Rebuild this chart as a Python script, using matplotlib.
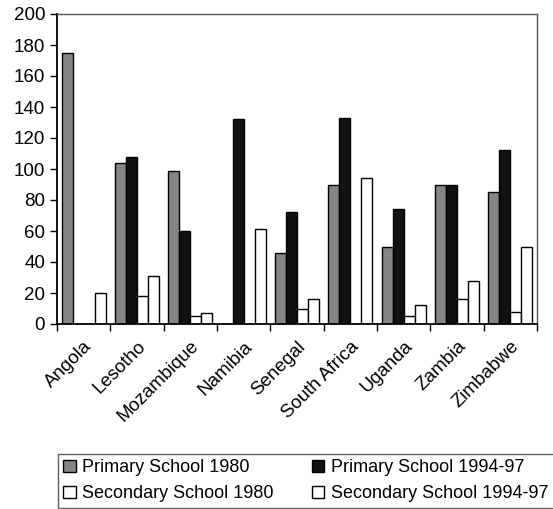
import numpy as np
import matplotlib.pyplot as plt

plt.rcParams['font.family'] = ['Liberation Sans', 'DejaVu Sans']

countries = ['Angola', 'Lesotho', 'Mozambique', 'Namibia', 'Senegal',
             'South Africa', 'Uganda', 'Zambia', 'Zimbabwe']
primary_1980 = [175, 104, 99, 0, 46, 90, 50, 90, 85]
primary_1994 = [0, 108, 60, 132, 72, 133, 74, 90, 112]
secondary_1980 = [0, 18, 5, 0, 10, 0, 5, 16, 8]
secondary_1994 = [20, 31, 7, 61, 16, 94, 12, 28, 50]

series = [
    ('Primary School 1980', primary_1980, '#858585'),
    ('Primary School 1994-97', primary_1994, '#111111'),
    ('Secondary School 1980', secondary_1980, 'white'),
    ('Secondary School 1994-97', secondary_1994, 'white'),
]

fig = plt.figure(figsize=(5.53, 5.09), dpi=100)
ax = fig.add_axes([57 / 553, 1 - 324 / 509, 480 / 553, 310 / 509])

x = np.arange(len(countries))
w = 0.205
handles = {}
for i, (name, vals, col) in enumerate(series):
    vals = np.array(vals, dtype=float)
    mask = vals > 0
    b = ax.bar(x[mask] + (i - 1.5) * w, vals[mask], w, color=col,
               edgecolor='black', linewidth=1.0, label=name)
    handles[name] = b

ax.set_xlim(-0.5, len(countries) - 0.5)
ax.set_ylim(0, 200)
ax.set_yticks(range(0, 201, 20))
ax.set_xticks(x)
ax.set_xticklabels(countries, rotation=45, ha='right', rotation_mode='anchor',
                   fontsize=13.5)
ax.set_xticks(np.arange(-0.5, len(countries), 1), minor=True)
ax.tick_params(axis='x', which='major', length=0, pad=10)
ax.tick_params(axis='x', which='minor', length=5, width=1, direction='out')
ax.tick_params(axis='y', length=5, width=1, direction='out', labelsize=13.5)

for s in ['left', 'bottom']:
    ax.spines[s].set_linewidth(1.3)
for s in ['top', 'right']:
    ax.spines[s].set_linewidth(1.0)
    ax.spines[s].set_color('#555555')

# legend fills row by row like the original (ncol=2 fills by column)
order = ['Primary School 1980', 'Secondary School 1980',
         'Primary School 1994-97', 'Secondary School 1994-97']
leg = fig.legend([handles[k] for k in order], order, loc='upper left',
                 bbox_to_anchor=(58 / 553, 1 - 454 / 509),
                 ncol=2, fontsize=13, frameon=True,
                 fancybox=False, edgecolor='#333333', handlelength=0.7,
                 handleheight=0.7, handletextpad=0.35, columnspacing=2.1,
                 borderaxespad=0, borderpad=0.3, labelspacing=0.5)
leg.get_frame().set_linewidth(1.0)

fig.savefig('out.png', dpi=100)
